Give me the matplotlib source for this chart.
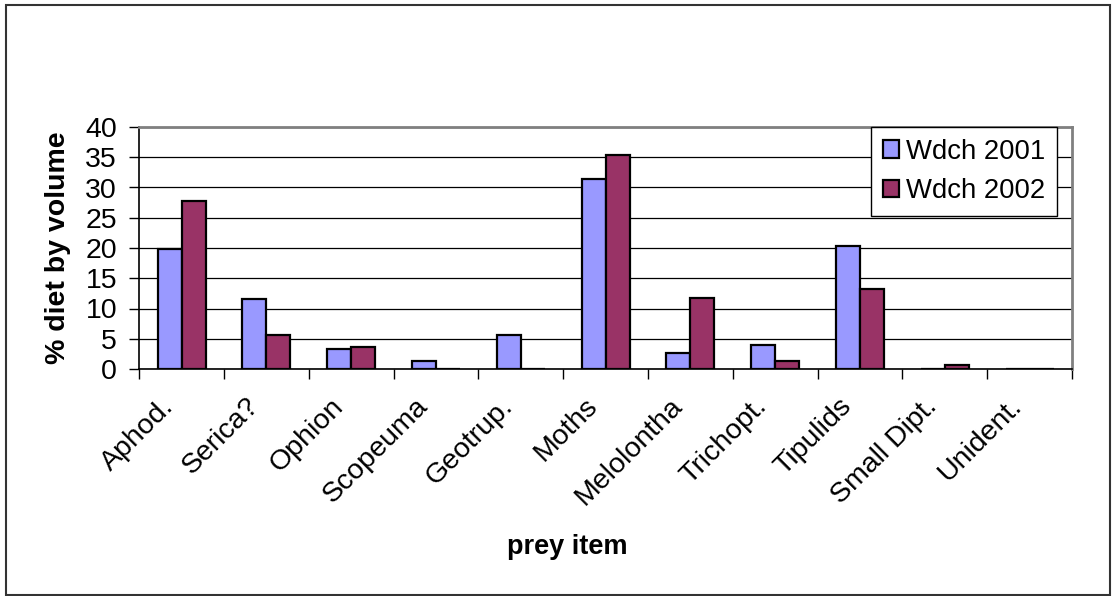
import numpy as np
import matplotlib
matplotlib.use("Agg")
import matplotlib.pyplot as plt
from matplotlib.patches import Rectangle
from matplotlib.transforms import ScaledTranslation

plt.rcParams['font.family'] = ['Liberation Sans', 'DejaVu Sans']

# data
categories = ["Aphod.", "Serica?", "Ophion", "Scopeuma", "Geotrup.", "Moths",
              "Melolontha", "Trichopt.", "Tipulids", "Small Dipt.", "Unident."]
wdch_2001 = [19.8, 11.6, 3.3, 1.3, 5.6, 31.4, 2.6, 3.9, 20.4, 0.0, 0.0]
wdch_2002 = [27.8, 5.6, 3.6, 0.0, 0.0, 35.4, 11.8, 1.3, 13.2, 0.6, 0.0]
series_names = ["Wdch 2001", "Wdch 2002"]

fig = plt.figure(figsize=(11.12, 5.96), dpi=100)
ax = fig.add_axes([139.3/1112, 1-369/596, (1072-139.3)/1112, (369-127)/596])

x = np.arange(len(categories))
w = 0.283
ax.bar(x - w/2, wdch_2001, w, color="#9999FF", edgecolor="black", linewidth=1.6,
       label=series_names[0], zorder=3)
ax.bar(x + w/2, wdch_2002, w, color="#993366", edgecolor="black", linewidth=1.6,
       label=series_names[1], zorder=3)

ax.set_xlim(-0.5, len(categories) - 0.5)
ax.set_ylim(0, 40)
ax.set_yticks(range(0, 41, 5))
ax.yaxis.grid(True, color="black", linewidth=0.9, zorder=0)

# labels centered, tick marks at category boundaries
ax.set_xticks(x)
ax.set_xticklabels(categories, rotation=45, ha="right", va="center",
                   rotation_mode="anchor", fontsize=20.5)
ax.set_xticks(np.arange(-0.5, len(categories)), minor=True)
ax.tick_params(axis="x", which="major", length=0, pad=24)
ax.tick_params(axis="x", which="minor", length=7, width=1, direction="out")
ax.tick_params(axis="y", length=7, width=1, direction="out", labelsize=20.5, pad=9)

shift = ScaledTranslation(-12/100, 0, fig.dpi_scale_trans)
for lab in ax.get_xticklabels():
    lab.set_transform(lab.get_transform() + shift)

for side in ["top", "right"]:
    ax.spines[side].set_color("#808080")
    ax.spines[side].set_linewidth(2)
for side in ["left", "bottom"]:
    ax.spines[side].set_color("black")
    ax.spines[side].set_linewidth(1.2)

ax.set_ylabel("% diet by volume", fontsize=20.5, fontweight="bold")
ax.yaxis.set_label_coords((71-139.3)/932.7, 0.5)
fig.text(567/1112, 1-547/596, "prey item", fontsize=19.5, fontweight="bold",
         ha="center", va="center")

leg = ax.legend(loc="upper right", bbox_to_anchor=(1057/1112, 1-127/596),
                bbox_transform=fig.transFigure, borderaxespad=0,
                fontsize=19.8, frameon=True, fancybox=False, framealpha=1,
                handlelength=0.6, handleheight=0.6, handletextpad=0.25,
                labelspacing=0.5, borderpad=0.42)
leg.get_frame().set_edgecolor("black")
leg.get_frame().set_linewidth(1)

fig.patches.append(Rectangle((6/1112, 1/596), 1104/1112, 590/596,
                             transform=fig.transFigure, fill=False,
                             edgecolor="#333333", linewidth=1.5))

fig.savefig("out.png", dpi=100)
